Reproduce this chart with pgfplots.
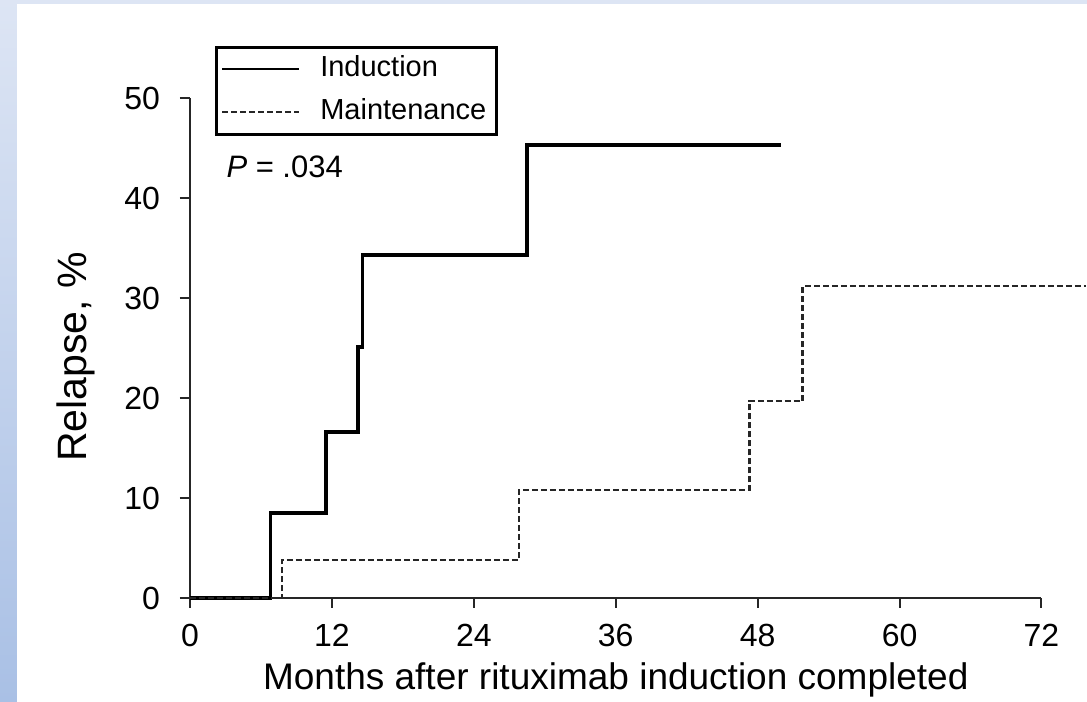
\documentclass[border=0pt]{standalone}
\usepackage{fontspec}
\setmainfont{Liberation Sans}
\usepackage{pgfplots}
\pgfplotsset{compat=1.18}

\definecolor{bgtop}{HTML}{DDE5F4}
\definecolor{bgbot}{HTML}{A9C0E5}

\begin{document}
\begin{tikzpicture}
% slide background and white panel (1px = 0.4pt)
\shade[top color=bgtop,bottom color=bgbot] (0pt,0pt) rectangle (434.8pt,280.8pt);
\fill[white] (6.8pt,0pt) rectangle (434.8pt,279.2pt);
\begin{axis}[
  at={(76pt,41.6pt)}, anchor=south west,
  scale only axis, width=340.6pt, height=200pt,
  xmin=0, xmax=72, ymin=0, ymax=50,
  axis lines*=left,
  axis line style={black!85, line width=0.8pt},
  tick align=outside, major tick length=4pt,
  tick style={black!85, line width=0.8pt},
  xtick={0,12,...,72}, ytick={0,10,...,50},
  /pgf/number format/assume math mode=true,
  tick label style={font=\fontsize{12.8}{14}\selectfont},
  yticklabel style={xshift=-4.5pt},
  xticklabel style={yshift=-3pt},
  xlabel={Months after rituximab induction completed},
  ylabel={Relapse, \%},
  xlabel style={font=\fontsize{14.8}{16}\selectfont, at={(axis description cs:0.5,-0.164)}, anchor=center},
  ylabel style={font=\fontsize{16.4}{18}\selectfont, at={(axis description cs:-0.134,0.482)}, anchor=center},
  clip=false, no markers,
  legend image code/.code={\draw[#1, line width=0.7pt] (0pt,0pt) -- (30.8pt,0pt);},
  legend cell align=left,
  legend style={at={(axis description cs:0.0294,1.104)}, anchor=north west,
    draw=black, line width=1.2pt, font=\fontsize{11.6}{13}\selectfont,
    inner xsep=2pt, inner ysep=1.3pt, row sep=2.3pt,
    /tikz/every odd column/.append style={column sep=6pt},
    nodes={text height=8.5pt, text depth=2.4pt, inner sep=2pt}},
]
\addplot[black, line width=1.4pt, const plot]
  coordinates {(0,0) (6.8,8.5) (11.5,16.6) (14.2,25.1) (14.6,34.3) (28.5,45.3) (50,45.3)};
\addlegendentry{Induction}
\addplot[black!85, line width=1pt, dash pattern=on 2.4pt off 1.2pt, const plot]
  coordinates {(0,0) (7.8,3.8) (27.8,10.8) (47.3,19.7) (51.8,31.2) (75.8,31.2)};
\addlegendentry{Maintenance\hspace{2pt}}
\end{axis}
\node[anchor=base west, inner sep=0pt, font=\fontsize{12.4}{14}\selectfont] at (90.4pt,209.6pt) {\textit{P} = .034};
\pgfresetboundingbox
\path[use as bounding box] (0pt,0pt) rectangle (434.8pt,280.8pt);
\end{tikzpicture}
\end{document}
